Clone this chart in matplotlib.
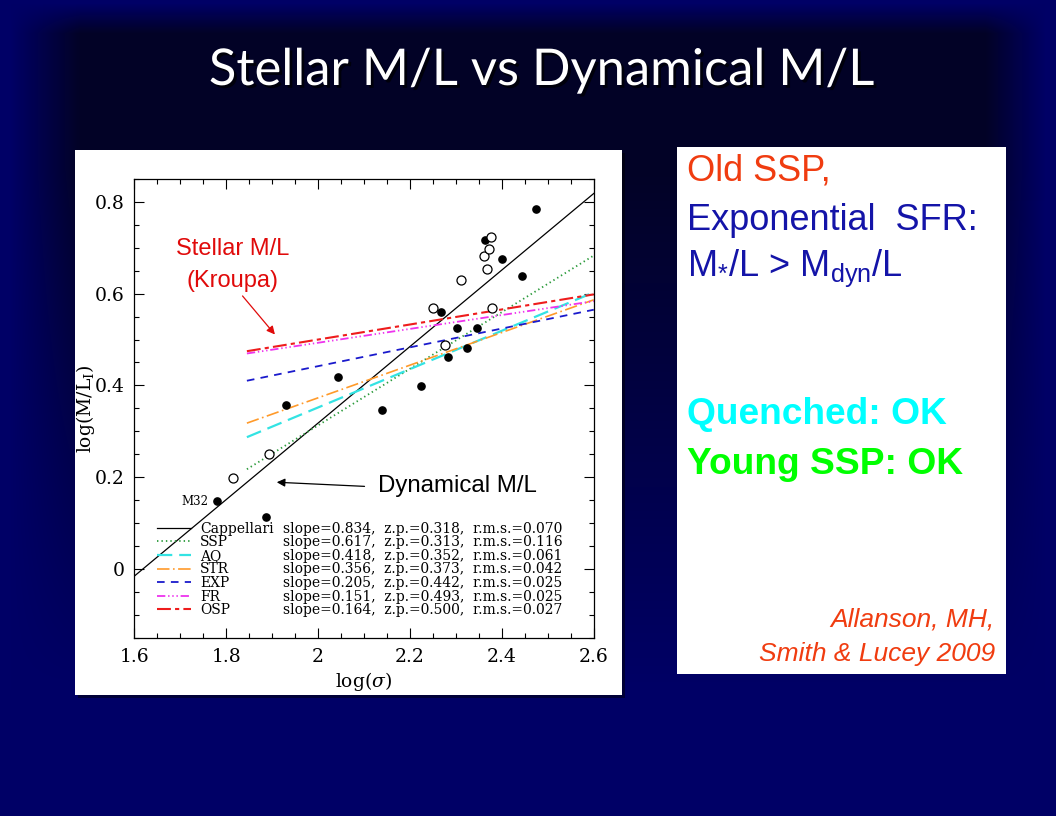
import numpy as np
import matplotlib.pyplot as plt
from matplotlib.lines import Line2D
from matplotlib.patches import Rectangle
from matplotlib.ticker import MultipleLocator, FuncFormatter
import matplotlib.patheffects as pe

plt.rcParams['font.family'] = 'DejaVu Serif'
plt.rcParams['mathtext.fontset'] = 'custom'
plt.rcParams['mathtext.rm'] = 'Liberation Sans'
plt.rcParams['mathtext.it'] = 'Liberation Sans:italic'
plt.rcParams['lines.scale_dashes'] = False

# galaxies
filled_x = [1.779, 1.887, 1.930, 2.043, 2.140, 2.225, 2.267, 2.283, 2.303,
            2.324, 2.346, 2.364, 2.401, 2.444, 2.474]
filled_y = [0.149, 0.114, 0.358, 0.418, 0.346, 0.399, 0.559, 0.463, 0.525,
            0.481, 0.525, 0.718, 0.675, 0.638, 0.784]
open_x = [1.814, 1.893, 2.250, 2.277, 2.311, 2.361, 2.367, 2.371, 2.377, 2.379]
open_y = [0.199, 0.250, 0.569, 0.488, 0.629, 0.682, 0.654, 0.698, 0.723, 0.569]

# fits: log(M/L) = zp + slope*(log(sigma) - 2)
fit_names = ['Cappellari', 'SSP', 'AQ', 'STR', 'EXP', 'FR', 'OSP']
fit_slope = [0.834, 0.617, 0.418, 0.356, 0.205, 0.151, 0.164]
fit_zp = [0.318, 0.313, 0.352, 0.373, 0.442, 0.493, 0.500]
fit_rms = [0.070, 0.116, 0.061, 0.042, 0.025, 0.025, 0.027]
fit_xmin = [1.6, 1.845, 1.845, 1.845, 1.845, 1.845, 1.845]
fit_xmax = [2.6, 2.6, 2.6, 2.6, 2.6, 2.6, 2.6]

fit_colors = ['black', '#2a9a3a', '#33e3e3', '#ff9a2a', '#1a1acc', '#ee33ee', '#ee1c1c']
fit_styles = ['-', (0, (1, 2.2)), (0, (11, 5)), (0, (9, 2.5, 1.2, 2.5)),
              (0, (5.5, 4.5)), (0, (6, 2, 1, 2, 1, 2, 1, 2)), (0, (10, 3, 3, 3))]
fit_widths = [0.9, 1.3, 1.6, 1.2, 1.3, 1.3, 1.5]

W, H = 1056, 816
fig = plt.figure(figsize=(10.56, 8.16), dpi=100)

# slide background
bg = fig.add_axes([0, 0, 1, 1], zorder=-5)
bg.set_xlim(0, W)
bg.set_ylim(H, 0)
bg.axis('off')
xx = np.arange(W)
yy = np.arange(H)
fx = np.clip((xx - 10) / 70, 0, 1) * np.clip((1045 - xx) / 60, 0, 1)
fy = np.clip((yy - 3) / 30, 0, 1) * np.clip((690 - yy) / 520, 0, 1)
d = (fy[:, None] * fx[None, :])[..., None]
navy = np.array([0.0, 0.0, 0.40])
dark = np.array([0.01, 0.01, 0.15])
bg.imshow(navy * (1 - d) + dark * d, extent=[0, W, H, 0], aspect='auto',
          interpolation='bilinear')
bg.add_patch(Rectangle((78, 153), 547, 545, color='black', alpha=0.45, lw=0))
bg.add_patch(Rectangle((75, 150), 547, 545, color='white', lw=0))
bg.add_patch(Rectangle((677, 147), 329, 527, color='white', lw=0))

# title
fig.text(542 / W, 1 - 71 / H, 'Stellar M/L vs Dynamical M/L', ha='center', va='center',
         color='white', fontsize=36.5, family='Lato',
         path_effects=[pe.withSimplePatchShadow(offset=(2, -2), shadow_rgbFace='black', alpha=0.7)])

# plot
ax = fig.add_axes([0.1272, 0.2184, 0.4351, 0.5623])
ax.set_xlim(1.6, 2.6)
ax.set_ylim(-0.15, 0.85)

handles = []
for i in range(len(fit_names)):
    xs = np.array([fit_xmin[i], fit_xmax[i]])
    ys = fit_zp[i] + fit_slope[i] * (xs - 2.0)
    h, = ax.plot(xs, ys, color=fit_colors[i], ls=fit_styles[i], lw=fit_widths[i], zorder=2)
    handles.append(h)

ax.plot(filled_x, filled_y, 'o', color='black', ms=5.2, zorder=4)
ax.plot(open_x, open_y, 'o', mfc='white', mec='black', mew=0.9, ms=6.5, zorder=4)
ax.text(1.762, 0.148, 'M32', ha='right', va='center', fontsize=8.5)

for s in ax.spines.values():
    s.set_linewidth(0.9)
for a in (ax.xaxis, ax.yaxis):
    a.set_major_locator(MultipleLocator(0.2))
    a.set_minor_locator(MultipleLocator(0.05))
    a.set_major_formatter(FuncFormatter(lambda v, p: f'{round(v, 2):g}'))
ax.tick_params(which='both', direction='in', top=True, right=True, width=0.8)
ax.tick_params(which='major', length=7, labelsize=13.5, pad=7)
ax.tick_params(which='minor', length=3.5)
ax.set_xlabel(r'log($\sigma$)', fontsize=13.5, math_fontfamily='dejavuserif', labelpad=3)
ax.set_ylabel(r'log(M/L$_{\rm I}$)', fontsize=13.5, math_fontfamily='dejavuserif')
ax.yaxis.set_label_coords(-0.081, 0.5)

leg1 = ax.legend(handles, fit_names, loc='upper left', bbox_to_anchor=(0.0488, 0.253),
                 frameon=False, fontsize=10, handlelength=2.5, handletextpad=0.6,
                 labelspacing=-0.03, borderpad=0, borderaxespad=0)
ax.add_artist(leg1)
stats = [f'slope={fit_slope[i]:.3f},  z.p.={fit_zp[i]:.3f},  r.m.s.={fit_rms[i]:.3f}'
         for i in range(len(fit_names))]
blank = [Line2D([], [], ls='none') for _ in stats]
ax.legend(blank, stats, loc='upper left', bbox_to_anchor=(0.323, 0.253),
          frameon=False, fontsize=10, handlelength=0, handletextpad=0,
          labelspacing=-0.03, borderpad=0, borderaxespad=0)

# annotations
ax.text(1.813, 0.697, 'Stellar M/L', ha='center', va='center', color='#e00a0a',
        fontsize=17, family='Liberation Sans')
ax.text(1.813, 0.627, '(Kroupa)', ha='center', va='center', color='#e00a0a',
        fontsize=17, family='Liberation Sans')
ax.annotate('', xy=(1.906, 0.511), xytext=(1.8355, 0.595),
            arrowprops=dict(arrowstyle='-|>', color='#e00a0a', lw=0.9,
                            mutation_scale=12, shrinkA=0, shrinkB=0))
ax.text(2.130, 0.181, 'Dynamical M/L', ha='left', va='center', color='black',
        fontsize=17.3, family='Liberation Sans')
ax.annotate('', xy=(1.910, 0.189), xytext=(2.101, 0.180),
            arrowprops=dict(arrowstyle='-|>', color='black', lw=0.9,
                            mutation_scale=12, shrinkA=0, shrinkB=0))

# side box
tx = 687 / W
fig.text(tx, 1 - 171 / H, 'Old SSP,', color='#f03c10', fontsize=26,
         family='Liberation Sans', va='center')
fig.text(tx, 1 - 220 / H, 'Exponential  SFR:', color='#1414a8', fontsize=26,
         family='Liberation Sans', va='center')
fig.text(tx, 1 - 268 / H, r'M$_{*}$/L > M$_{\rm dyn}$/L', color='#1414a8', fontsize=26,
         family='Liberation Sans', va='center')
fig.text(tx, 1 - 415 / H, 'Quenched: OK', color='#00ffff', fontsize=26.7,
         family='Liberation Sans', fontweight='bold', va='center')
fig.text(tx, 1 - 465 / H, 'Young SSP: OK', color='#00ff00', fontsize=26.7,
         family='Liberation Sans', fontweight='bold', va='center')
fig.text(995 / W, 1 - 620 / H, 'Allanson, MH,', color='#f03c10', fontsize=19,
         family='Liberation Sans', style='italic', ha='right', va='center')
fig.text(995 / W, 1 - 654 / H, 'Smith & Lucey 2009', color='#f03c10', fontsize=19,
         family='Liberation Sans', style='italic', ha='right', va='center')

fig.savefig('out.png', dpi=100)
